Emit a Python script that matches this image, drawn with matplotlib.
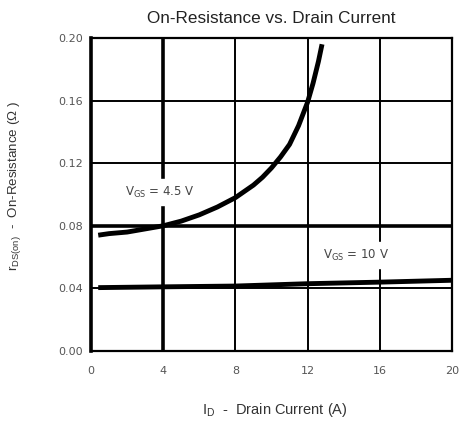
import matplotlib.pyplot as plt

# Data.
id_45 = [0.4, 1.0, 2.0, 3.0, 4.0, 5.0, 6.0, 7.0, 8.0, 8.5, 9.0, 9.5, 10.0, 10.5,
         11.0, 11.5, 12.0, 12.3, 12.6, 12.8]
rds_45 = [0.074, 0.075, 0.076, 0.078, 0.080, 0.083, 0.087, 0.092, 0.098, 0.102,
          0.106, 0.111, 0.117, 0.124, 0.132, 0.144, 0.159, 0.171, 0.185, 0.196]

id_10 = [0.4, 4.0, 8.0, 12.0, 16.0, 20.0]
rds_10 = [0.0405, 0.041, 0.0415, 0.043, 0.044, 0.0452]

x_ticks = [0, 4, 8, 12, 16, 20]
y_ticks = [0.00, 0.04, 0.08, 0.12, 0.16, 0.20]

plt.rcParams["font.family"] = ["Liberation Sans", "DejaVu Sans"]
wide = ["DejaVu Sans"]

fig = plt.figure(figsize=(4.59, 4.21), dpi=100)
ax = fig.add_axes([91 / 459, 1 - 351 / 421, 361 / 459, 313 / 421])

# Grid lines: heavier at I = 4 A and r = 0.08 ohm.
for xv in x_ticks[1:-1]:
    ax.axvline(xv, color="black", linewidth=2.6 if xv == 4 else 1.4, zorder=1)
for yv in y_ticks[1:-1]:
    ax.axhline(yv, color="black", linewidth=2.6 if abs(yv - 0.08) < 1e-9 else 1.4, zorder=1)

# Curves.
ax.plot(id_45, rds_45, color="black", linewidth=3.5, solid_capstyle="butt", zorder=3)
ax.plot(id_10, rds_10, color="black", linewidth=3.5, solid_capstyle="butt", zorder=3)

# Curve labels.
ax.text(3.8, 0.1016, r"V$_{\mathregular{GS}}$ = 4.5 V", ha="center", va="center",
        fontsize=8.5, family=wide, color="#444444", backgroundcolor="white", zorder=2)
ax.text(14.7, 0.0613, r"V$_{\mathregular{GS}}$ = 10 V", ha="center", va="center",
        fontsize=8.5, family=wide, color="#444444", backgroundcolor="white", zorder=2)

ax.set_xlim(0, 20)
ax.set_ylim(0, 0.20)
ax.set_xticks(x_ticks)
ax.set_yticks(y_ticks)
ax.set_xticklabels([str(v) for v in x_ticks], family=wide)
ax.set_yticklabels([f"{v:.2f}" for v in y_ticks], family=wide)
ax.tick_params(length=0, labelsize=8, colors="#555555")
ax.tick_params(axis="y", pad=6)
ax.tick_params(axis="x", pad=11)

for side in ["left", "right", "top", "bottom"]:
    ax.spines[side].set_linewidth(1.6)
ax.spines["left"].set_linewidth(2.6)

ax.set_title("On-Resistance vs. Drain Current", fontsize=12.3, color="#222222", pad=11)
ax.set_xlabel(r"I$_{\mathregular{D}}$  -  Drain Current (A)", fontsize=10.5, color="#333333")
ax.set_ylabel(r"r$_{\mathregular{DS(on)}}$  -  On-Resistance ($\mathregular{\Omega}$ )", fontsize=9.6,
              color="#333333")
ax.xaxis.set_label_coords(0.508, -0.16)
ax.yaxis.set_label_coords(-0.188, 0.527)

fig.savefig("out.png", dpi=100)
